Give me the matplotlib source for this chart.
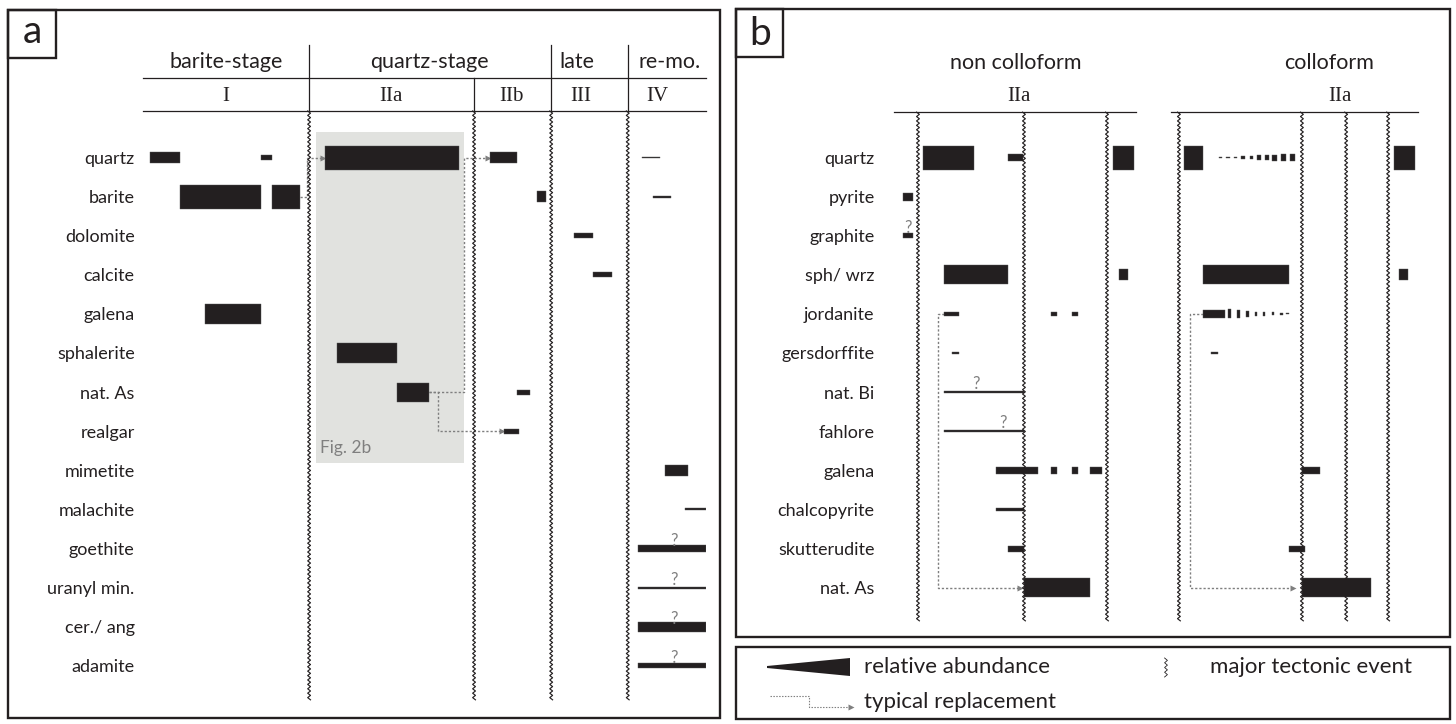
import numpy as np
import matplotlib.pyplot as plt
from matplotlib.patches import Rectangle, Polygon

plt.rcParams['font.family'] = ['Lato', 'DejaVu Sans']
SERIF = ['Liberation Serif', 'DejaVu Serif']

INK = '#231f20'
GREY = '#7f7f7f'
SHADE = '#e1e2df'

# ---------------- panel a: whole paragenetic sequence ----------------
a_minerals = ['quartz', 'barite', 'dolomite', 'calcite', 'galena', 'sphalerite', 'nat. As',
              'realgar', 'mimetite', 'malachite', 'goethite', 'uranyl min.', 'cer./ ang', 'adamite']
a_stages = ['barite-stage', 'quartz-stage', 'late', 're-mo.']
a_substages = ['I', 'IIa', 'IIb', 'III', 'IV']
a_substage_stage = ['barite-stage', 'quartz-stage', 'quartz-stage', 'late', 're-mo.']
# relative time (0-100) of the major tectonic events between the sub-stages
a_events = [29.5, 58.8, 72.5, 86.1]

# (mineral, start, end, relative abundance 0-1)
a_bars = [
    ('quartz', 1.2, 6.6, 0.45), ('quartz', 21.0, 22.9, 0.2), ('quartz', 32.3, 56.1, 1.0),
    ('quartz', 61.6, 66.4, 0.45), ('quartz', 88.6, 91.8, 0.08),
    ('barite', 6.6, 21.0, 1.0), ('barite', 22.9, 27.9, 1.0), ('barite', 70.0, 71.6, 0.45),
    ('barite', 90.6, 93.8, 0.08),
    ('dolomite', 76.6, 79.9, 0.2),
    ('calcite', 79.9, 83.3, 0.2),
    ('galena', 11.0, 21.0, 0.8),
    ('sphalerite', 34.5, 45.1, 0.8),
    ('nat. As', 45.1, 50.8, 0.8), ('nat. As', 66.4, 68.7, 0.2),
    ('realgar', 64.1, 66.8, 0.2),
    ('mimetite', 92.7, 96.8, 0.45),
    ('malachite', 96.3, 100.0, 0.08),
    ('goethite', 87.9, 100.0, 0.3),
    ('uranyl min.', 87.9, 100.0, 0.08),
    ('cer./ ang', 87.9, 100.0, 0.42),
    ('adamite', 87.9, 100.0, 0.2),
]
a_uncertain = [('goethite', 94.3), ('uranyl min.', 94.3), ('cer./ ang', 94.3), ('adamite', 94.3)]
# (replaced mineral, leaves at, turns at, replacing mineral, arrives at)
a_replacements = [
    ('barite', 27.9, 29.2, 'quartz', 32.0),
    ('nat. As', 50.8, 57.0, 'quartz', 61.3),
    ('nat. As', 50.8, 52.4, 'realgar', 63.8),
]

# ---------------- panel b: stage IIa, non colloform vs colloform ----------------
b_minerals = ['quartz', 'pyrite', 'graphite', 'sph/ wrz', 'jordanite', 'gersdorffite', 'nat. Bi',
              'fahlore', 'galena', 'chalcopyrite', 'skutterudite', 'nat. As']
b_textures = ['non colloform', 'colloform']
nc_events = [9.9, 53.7, 88.0]
c_events = [3.2, 53.0, 70.9, 87.9]

nc_bars = [
    ('quartz', 12.0, 33.1, 1.0), ('quartz', 47.1, 53.3, 0.33), ('quartz', 90.5, 99.2, 1.0),
    ('pyrite', 3.7, 7.9, 0.33),
    ('graphite', 3.7, 7.9, 0.2),
    ('sph/ wrz', 20.7, 47.1, 0.8), ('sph/ wrz', 93.0, 96.7, 0.45),
    ('jordanite', 20.7, 26.9, 0.2), ('jordanite', 64.9, 67.4, 0.2), ('jordanite', 73.6, 76.0, 0.2),
    ('gersdorffite', 24.0, 26.9, 0.12),
    ('nat. Bi', 20.7, 53.7, 0.08),
    ('fahlore', 20.7, 53.7, 0.08),
    ('galena', 42.1, 59.5, 0.3), ('galena', 64.9, 67.4, 0.3), ('galena', 73.6, 76.0, 0.3),
    ('galena', 81.0, 86.0, 0.3),
    ('chalcopyrite', 42.1, 53.7, 0.12),
    ('skutterudite', 47.1, 53.7, 0.25),
    ('nat. As', 53.7, 81.0, 0.8),
]
nc_uncertain = [('graphite', 5.8), ('nat. Bi', 33.9), ('fahlore', 45.0)]
nc_replacements = [('jordanite', 20.7, 18.2, 'nat. As', 52.1)]

c_bars = [
    ('quartz', 5.3, 13.0, 1.0),
    ('quartz', 19.4, 20.6, 0.04), ('quartz', 22.3, 23.7, 0.08), ('quartz', 25.5, 26.9, 0.08),
    ('quartz', 28.5, 30.0, 0.12), ('quartz', 31.8, 33.2, 0.12), ('quartz', 35.0, 36.4, 0.17),
    ('quartz', 38.1, 39.7, 0.2), ('quartz', 40.9, 42.9, 0.25), ('quartz', 44.5, 46.6, 0.3),
    ('quartz', 48.2, 50.2, 0.33),
    ('quartz', 90.3, 98.8, 1.0),
    ('sph/ wrz', 13.0, 47.8, 0.8), ('sph/ wrz', 92.3, 96.0, 0.45),
    ('jordanite', 13.0, 21.9, 0.3), ('jordanite', 23.1, 24.3, 0.37), ('jordanite', 26.7, 27.9, 0.3),
    ('jordanite', 30.4, 31.6, 0.25), ('jordanite', 34.0, 34.8, 0.2), ('jordanite', 37.2, 38.1, 0.17),
    ('jordanite', 40.9, 41.7, 0.12), ('jordanite', 44.1, 45.3, 0.08), ('jordanite', 46.6, 47.8, 0.04),
    ('gersdorffite', 16.2, 19.0, 0.12),
    ('galena', 53.0, 60.3, 0.3),
    ('skutterudite', 47.8, 54.3, 0.25),
    ('nat. As', 53.0, 81.0, 0.8),
]
c_replacements = [('jordanite', 13.0, 7.5, 'nat. As', 49.4)]

# ---------------- layout ----------------
W, H = 1456, 724
ROW0, ROW_H = 157.5, 39.1      # pixel centre of the first row, row pitch
BAR_H = 24 / ROW_H             # bar height (rows) for abundance 1
LABEL_FS, HEAD_FS, ROMAN_FS, LEGEND_FS = 13, 15.5, 15, 16

fig = plt.figure(figsize=(W / 100, H / 100), dpi=100)
bg = fig.add_axes([0, 0, 1, 1])
bg.set_xlim(0, W)
bg.set_ylim(H, 0)
bg.axis('off')


def panel_axes(x0, x1):
    top, bottom = ROW0 - 3.5 * ROW_H, ROW0 + 14 * ROW_H
    ax = fig.add_axes([x0 / W, 1 - bottom / H, (x1 - x0) / W, (bottom - top) / H])
    ax.set_xlim(0, 100)
    ax.set_ylim(14, -3.5)
    ax.patch.set_visible(False)
    for s in ax.spines.values():
        s.set_visible(False)
    ax.set_xticks([])
    ax.tick_params(axis='y', length=0, labelcolor=INK)
    return ax


def tectonic_line(ax, x, y0, y1, period=4.4, amp=1.4, lw=0.85):
    # zigzag drawn in screen pixels so every line looks alike
    (px, py0), (_, py1) = ax.transData.transform([(x, y0), (x, y1)])
    n = int(abs(py1 - py0) / (period / 2))
    ys = np.linspace(py0, py1, n + 1)
    xs = px + amp * np.where(np.arange(n + 1) % 2, 1, -1)
    pts = ax.transData.inverted().transform(np.column_stack([xs, ys]))
    ax.plot(pts[:, 0], pts[:, 1], color=INK, lw=lw, clip_on=False, zorder=4)


def draw_bars(ax, rows, bars):
    for name, x0, x1, a in bars:
        ax.barh(rows.index(name), x1 - x0, left=x0, height=a * BAR_H, color=INK,
                ec='#555555', lw=0.3, zorder=3)


def draw_uncertain(ax, rows, marks):
    for name, x in marks:
        ax.text(x, rows.index(name) - 0.07, '?', ha='center', va='baseline', fontsize=12, color=GREY)


def draw_replacements(ax, rows, paths):
    for src, x0, xv, dst, x1 in paths:
        r0, r1 = rows.index(src), rows.index(dst)
        ax.plot([x0, xv, xv, x1], [r0, r0, r1, r1], color=GREY, lw=1.0, ls=(0, (1.6, 1.4)), zorder=2)
        ax.plot(x1, r1, marker='>', ms=5, color=GREY, mec='none', zorder=2)


# frames
for x, y, w, h in [(8, 10, 712, 708), (8, 10, 48, 48), (736, 9, 714, 628), (736, 9, 47, 48),
                   (736, 647, 714, 72)]:
    bg.add_patch(Rectangle((x, y), w, h, fill=False, lw=1.7, ec=INK))
bg.text(32, 43, 'a', fontsize=28, ha='center', va='baseline', color=INK)
bg.text(760, 45, 'b', fontsize=28, ha='center', va='baseline', color=INK)

# ---- panel a ----
ax_a = panel_axes(143, 706)
ax_a.set_yticks(range(len(a_minerals)), a_minerals, fontsize=LABEL_FS)
ax_a.tick_params(axis='y', pad=6)

a_stage_x = [14.8, 50.8, 77.1, 93.6]
a_sub_x = [14.7, 44.0, 65.4, 77.8, 91.3]
for x, s in zip(a_stage_x, a_stages):
    ax_a.text(x, -2.43, s, ha='center', va='center', fontsize=HEAD_FS, color=INK)
for x, s in zip(a_sub_x, a_substages):
    ax_a.text(x, -1.57, s, ha='center', va='center', fontsize=ROMAN_FS, color=INK, family=SERIF)
for y in (-2.03, -1.19):
    ax_a.plot([0, 100], [y, y], color=INK, lw=0.9, clip_on=False)
for i, x in enumerate(a_events):
    stage_break = a_substage_stage[i] != a_substage_stage[i + 1]
    ax_a.plot([x, x], [-2.88 if stage_break else -2.03, -1.19], color=INK, lw=0.9)
    tectonic_line(ax_a, x, -1.19, 13.87)

ax_a.add_patch(Rectangle((30.7, -0.65), 26.3, 8.46, color=SHADE, lw=0, zorder=1))
ax_a.text(31.4, 7.55, 'Fig. 2b', fontsize=12.5, color=GREY, va='baseline')

draw_replacements(ax_a, a_minerals, a_replacements)
draw_bars(ax_a, a_minerals, a_bars)
draw_uncertain(ax_a, a_minerals, a_uncertain)

# ---- panel b ----
ax_nc = panel_axes(894, 1136)
ax_c = panel_axes(1171, 1418)
ax_nc.set_yticks(range(len(b_minerals)), b_minerals, fontsize=LABEL_FS)
ax_nc.tick_params(axis='y', pad=14)
ax_c.set_yticks([])

for ax, title, tx, sx, events in [(ax_nc, b_textures[0], 50.4, 51.7, nc_events),
                                  (ax_c, b_textures[1], 64.0, 68.4, c_events)]:
    ax.text(tx, -2.42, title, ha='center', va='center', fontsize=HEAD_FS, color=INK)
    ax.text(sx, -1.57, 'IIa', ha='center', va='center', fontsize=ROMAN_FS, color=INK, family=SERIF)
    ax.plot([0, 100], [-1.16, -1.16], color=INK, lw=0.9, clip_on=False)
    for x in events:
        tectonic_line(ax, x, -1.16, 11.85)

draw_replacements(ax_nc, b_minerals, nc_replacements)
draw_replacements(ax_c, b_minerals, c_replacements)
draw_bars(ax_nc, b_minerals, nc_bars)
draw_bars(ax_c, b_minerals, c_bars)
draw_uncertain(ax_nc, b_minerals, nc_uncertain)

# ---- legend ----
bg.add_patch(Polygon([(767, 666), (850, 658), (850, 676), (767, 668)], color=INK, lw=0))
bg.text(864, 667, 'relative abundance', va='center', fontsize=LEGEND_FS, color=INK)
tectonic_line(bg, 1166, 658, 677, lw=0.6)
bg.text(1210, 667, 'major tectonic event', va='center', fontsize=LEGEND_FS, color=INK)
bg.plot([770, 809, 809, 851], [696, 696, 707, 707], color=GREY, lw=0.8, ls=(0, (1.3, 1.3)))
bg.plot(851, 707, marker='>', ms=4, color=GREY, mec='none')
bg.text(864, 702, 'typical replacement', va='center', fontsize=LEGEND_FS, color=INK)

fig.savefig('out.png', dpi=100)
